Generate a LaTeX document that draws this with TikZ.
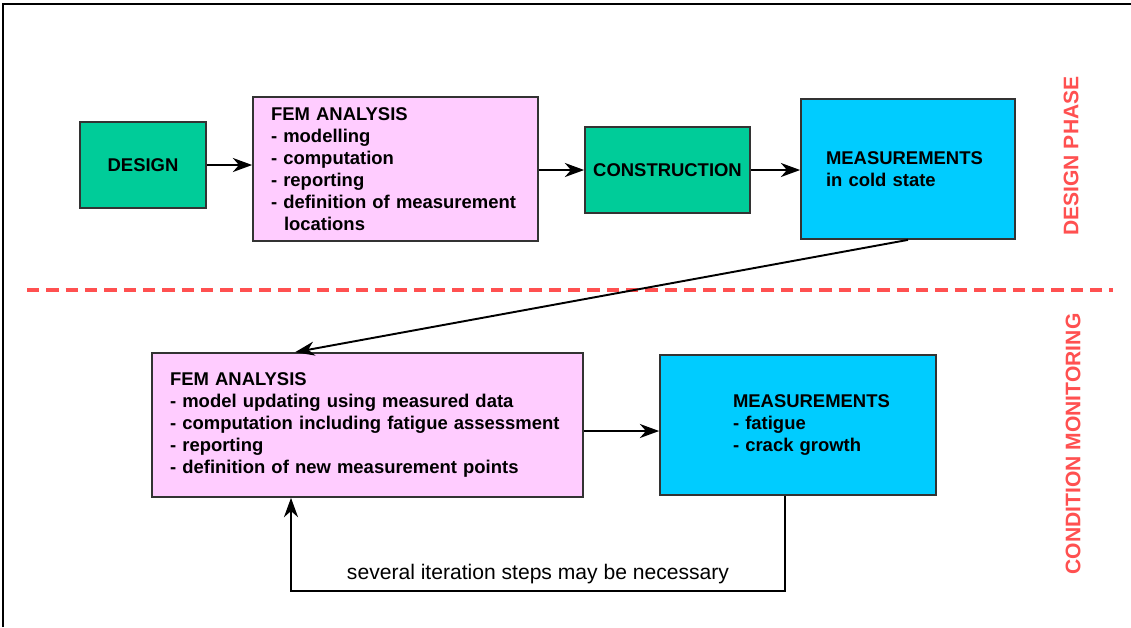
\documentclass[tikz,border=0pt]{standalone}
\usepackage{fontspec}
\setmainfont{Liberation Sans}
\usetikzlibrary{arrows.meta,calc}
\definecolor{designgreen}{RGB}{0,204,153}
\definecolor{fempink}{RGB}{255,204,255}
\definecolor{measblue}{RGB}{0,204,255}
\definecolor{phasered}{RGB}{255,80,80}

\begin{document}
\begin{tikzpicture}[x=0.02cm, y=-0.02cm,
    box/.style={draw=black!80, line width=1pt, inner sep=0pt,
        font=\fontsize{10.5}{12.6}\selectfont\bfseries},
    flow/.style={line width=1.1pt, -{Stealth[length=11pt,width=8pt,inset=3.5pt]}},
    phase/.style={phasered, rotate=90, font=\fontsize{12}{14}\selectfont\bfseries}]

    \useasboundingbox (0,0) rectangle (1131,627);
    % Frame
    \draw[line width=1.5pt] (3,627) -- (3,4) -- (1131,4);

    % Design phase
    \node[box, fill=designgreen, minimum width=2.52cm, minimum height=1.72cm] (design) at (143,165) {DESIGN};
    \node[box, fill=fempink, minimum width=5.70cm, minimum height=2.88cm, text width=4.98cm, align=left] (fem1) at (395.5,169)
        {FEM ANALYSIS\\- modelling\\- computation\\- reporting\\- definition of measurement\\\hspace*{0.26cm}locations};
    \node[box, fill=designgreen, minimum width=3.30cm, minimum height=1.72cm] (constr) at (667.5,170) {CONSTRUCTION};
    \node[box, fill=measblue, minimum width=4.28cm, minimum height=2.80cm, text width=3.28cm, align=left] (meas1) at (908,169)
        {MEASUREMENTS\\in cold state};

    \draw[flow] (design.east) -- (design.east -| fem1.west);
    \draw[flow] (fem1.east |- constr.west) -- (constr.west);
    \draw[flow] (constr.east) -- (constr.east -| meas1.west);

    % Phase border
    \draw[phasered, line width=2pt, dash pattern=on 7pt off 4pt] (27,290) -- (1113,290);
    \node[phase] (dphase) at (1071,156) {DESIGN PHASE};
    \node[phase] (cphase) at (1073,444) {CONDITION MONITORING};

    % Condition monitoring
    \node[box, fill=fempink, minimum width=8.62cm, minimum height=2.88cm, text width=7.90cm, align=left] (fem2) at (367.5,425)
        {FEM ANALYSIS\\- model updating using measured data\\- computation including fatigue assessment\\- reporting\\- definition of new measurement points};
    \node[box, fill=measblue, minimum width=5.52cm, minimum height=2.80cm, text width=2.6cm, align=left] (meas2) at (798,425)
        {MEASUREMENTS\\- fatigue\\- crack growth};

    \draw[flow] (meas1.south) -- ($(fem2.north west)+(144,0)$);
    \draw[flow] ($(fem2.east)+(0,6)$) -- ($(meas2.west)+(0,6)$);

    % Iteration loop
    \coordinate (back) at ($(fem2.south)+(-76.5,0)$);
    \coordinate (turn) at (785,591);
    \draw[flow] (turn |- meas2.south) -- (turn)
        -- node[above, name=iter, font=\fontsize{12}{14}\selectfont] {several iteration steps may be necessary} (turn -| back)
        -- (back);
\end{tikzpicture}
\end{document}
